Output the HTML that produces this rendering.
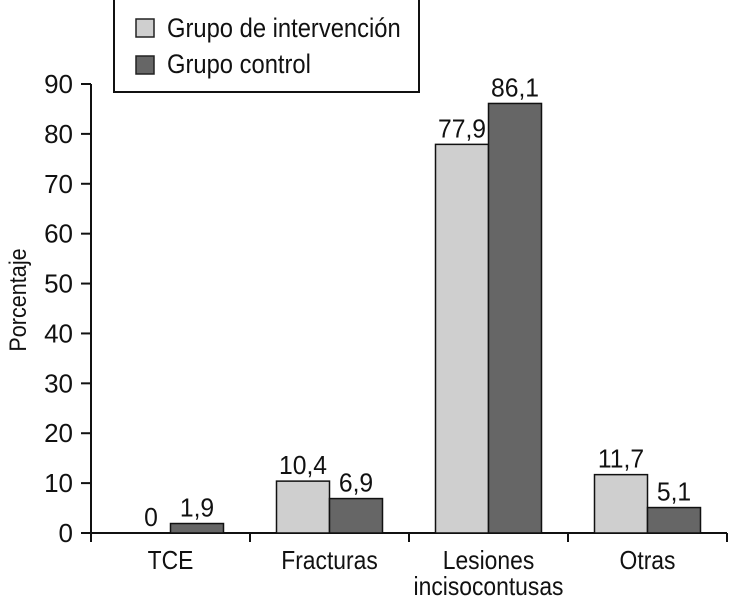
<!DOCTYPE html>
<html><head><meta charset="utf-8"><style>
html,body{margin:0;padding:0;background:#fff;}
svg text{font-family:"Liberation Sans Narrow","Liberation Sans",sans-serif;fill:#111;}
</style></head><body>
<svg width="730" height="605" viewBox="0 0 730 605">
<g id="plot"></g>
<g>
<rect x="114" y="-2" width="305" height="94" fill="#fff" stroke="#111" stroke-width="2"/>
<rect x="136" y="19" width="18" height="18" fill="#cfcfcf" stroke="#222" stroke-width="1.5"/>
<text transform="translate(167,37) scale(0.88,1)" font-size="27">Grupo de intervención</text>
<rect x="136" y="56" width="18" height="18" fill="#666" stroke="#222" stroke-width="1.5"/>
<text transform="translate(167,73) scale(0.88,1)" font-size="27">Grupo control</text>
</g>
<text transform="translate(26,300) rotate(-90) scale(0.9,1)" text-anchor="middle" font-size="24">Porcentaje</text>
</svg>
<script>
const categories = ["TCE","Fracturas","Lesiones|incisocontusas","Otras"];
const intervention = [0, 10.4, 77.9, 11.7];
const control = [1.9, 6.9, 86.1, 5.1];
const interventionLabels = ["0","10,4","77,9","11,7"];
const controlLabels = ["1,9","6,9","86,1","5,1"];
const yTicks = [0,10,20,30,40,50,60,70,80,90];

const NS="http://www.w3.org/2000/svg";
const g=document.getElementById('plot');
const x0=91, catW=159, y0=533, pxPerUnit=(533-84)/90, barW=53;
const y=v=>y0-v*pxPerUnit;
const cx=i=>x0+catW*(i+0.5);
function mk(tag,attrs){const e=document.createElementNS(NS,tag);for(const k in attrs)e.setAttribute(k,attrs[k]);g.appendChild(e);return e;}
function txt(x,yy,anchor,size,sx){return mk('text',{transform:`translate(${x},${yy}) scale(${sx},1)`,'text-anchor':anchor,'font-size':size});}

let ax=mk('line',{x1:x0,y1:y(90),x2:x0,y2:y0+9,stroke:'#111','stroke-width':2});


let bx=mk('line',{x1:x0,y1:y0,x2:x0+catW*categories.length,y2:y0,stroke:'#111','stroke-width':2});



yTicks.forEach(t=>{
  const tk=mk('line',{x1:x0-10,y1:y(t),x2:x0,y2:y(t),stroke:'#111','stroke-width':2});
  
  
  const lb=txt(x0-18,y(t)+9,'end',26,1);
  lb.textContent=t;
  
  
});

categories.forEach((c,i)=>{
  const tk=mk('line',{x1:x0+catW*(i+1),y1:y0,x2:x0+catW*(i+1),y2:y0+9,stroke:'#111','stroke-width':2});
  
  
  c.split('|').forEach((ln,j)=>{
    const t=txt(cx(i),y0+36+j*26,'middle',26,0.88);
    t.textContent=ln;
    
    
  });
  const vi=intervention[i], vc=control[i];
  if(vi>0){
    const b=mk('rect',{x:cx(i)-barW,y:y(vi),width:barW,height:y0-y(vi),fill:'#cfcfcf',stroke:'#111','stroke-width':1.5});
    
    
  }
  const b2=mk('rect',{x:cx(i),y:y(vc),width:barW,height:y0-y(vc),fill:'#666',stroke:'#111','stroke-width':1.5});
  
  
  const l1=txt(cx(i)-barW/2+(vi>0?0:7),y(vi)-7,'middle',26,0.95);
  l1.textContent=interventionLabels[i];
  
  
  const l2=txt(cx(i)+barW/2,y(vc)-7,'middle',26,0.95);
  l2.textContent=controlLabels[i];
  
  
});
</script>
</body></html>
